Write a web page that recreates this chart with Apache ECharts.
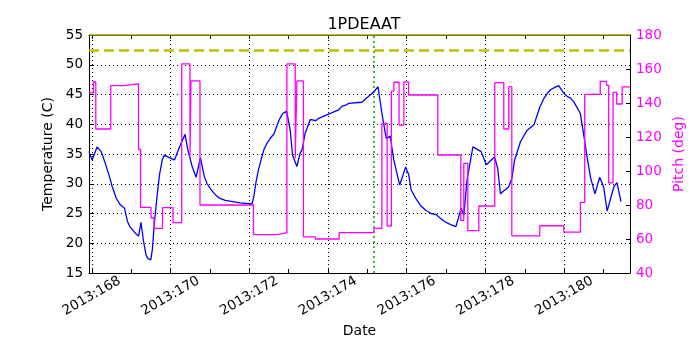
<!DOCTYPE html>
<html>
<head>
<meta charset="utf-8">
<script src="https://cdn.jsdelivr.net/npm/echarts@6/dist/echarts.min.js"></script>
<style>html,body{margin:0;padding:0;background:#fff;}#c{width:700px;height:350px;}</style>
</head>
<body>
<div id="c"></div>
<script>
const title = '1PDEAAT';
const xTickDays = [168, 169, 170, 171, 172, 173, 174, 175, 176, 177, 178, 179, 180, 181];
const xLabelDays = [168, 170, 172, 174, 176, 178, 180];
const tempDays = [167.93,168.01,168.135,168.24,168.34,168.45,168.52,168.62,168.72,168.83,168.91,168.97,169.04,169.12,169.19,169.25,169.31,169.38,169.43,169.50,169.54,169.59,169.66,169.72,169.79,169.84,169.97,170.10,170.25,170.37,170.44,170.55,170.65,170.76,170.86,170.93,171.03,171.13,171.24,171.39,171.77,172.07,172.12,172.18,172.24,172.30,172.37,172.45,172.53,172.63,172.70,172.78,172.85,172.95,173.04,173.10,173.21,173.29,173.34,173.42,173.55,173.69,173.76,174.27,174.35,174.45,174.52,174.86,175.17,175.27,175.37,175.48,175.58,175.67,175.82,175.97,176.05,176.11,176.24,176.37,176.49,176.62,176.75,176.87,177.00,177.13,177.25,177.38,177.45,177.53,177.68,177.89,178.02,178.23,178.31,178.38,178.59,178.67,178.74,178.89,179.06,179.23,179.38,179.48,179.57,179.65,179.76,179.86,179.99,180.07,180.16,180.24,180.41,180.50,180.58,180.67,180.78,180.90,181.00,181.09,181.26,181.34,181.44,181.64];
const tempVals = [35.4,34.0,36.2,35.4,33.5,31.2,29.5,27.6,26.5,25.9,23.6,22.8,22.2,21.6,21.2,23.5,20.5,18.0,17.4,17.2,19.0,23.4,28.0,31.5,34.0,34.8,34.4,34.0,36.5,38.3,35.7,32.9,31.1,34.4,31.2,30.0,29.0,28.2,27.6,27.2,26.8,26.6,28.0,30.6,32.5,34.0,35.7,36.8,37.6,38.4,39.7,41.0,41.8,42.2,39.0,34.8,32.9,35.1,35.7,38.5,40.8,40.6,41.0,42.4,43.0,43.2,43.5,43.7,45.5,46.3,41.8,37.6,38.0,34.0,29.8,32.8,31.5,29.0,27.4,26.2,25.5,25.0,24.8,24.1,23.5,23.1,22.8,25.9,24.7,30.6,36.2,35.4,33.2,34.5,32.6,28.3,29.5,30.9,34.0,37.1,39.0,39.9,42.9,44.3,45.2,45.8,46.2,46.5,45.2,44.7,44.4,43.8,41.8,38.0,34.5,31.0,28.3,31.1,29.5,25.4,29.5,30.2,27.0];
const pitchDays = [167.93,168.041,168.102,168.482,168.802,169.188,169.239,169.505,169.581,169.797,170.063,170.284,170.495,170.520,170.749,172.107,172.703,172.957,173.168,173.211,173.376,173.680,174.284,175.165,175.368,175.503,175.609,175.673,175.805,175.926,176.046,176.789,177.373,177.449,177.551,177.830,178.236,178.464,178.591,178.668,179.378,179.987,180.411,180.520,180.914,181.071,181.129,181.239,181.333,181.472,181.67];
const pitchVals = [146,152.5,124.7,150.2,151.2,112.8,78.6,72.5,66.2,78.4,69.6,163,108,153,80,62.6,63.7,163,107.5,153,61.2,60,63.7,66.2,128,67.6,147,152.2,127,152.4,144.7,109.4,71,104.5,64.9,79.4,152,124.7,149.6,61.8,67.8,64,81.6,145.1,152.7,150.4,93,146.2,139.4,149.5,149.5];
const tempLimit = 52.5;
const tempTop = 55;
const markerDay = 175.17;

const font = 'DejaVu Sans';
const gridStyle = {color: '#000', type: [1, 3], width: 1};
const vGrid = xLabelDays.map(d => ({xAxis: d, lineStyle: gridStyle}));

const chart = echarts.init(document.getElementById('c'), null, {renderer: 'canvas'});
chart.setOption({
  animation: false,
  backgroundColor: '#fff',
  textStyle: {fontFamily: font},
  title: {text: title, left: 359, textAlign: 'center', top: 12,
    textStyle: {fontFamily: font, fontSize: 16, fontWeight: 'normal', color: '#000'}},
  grid: {left: 89, right: 70, top: 35, bottom: 77, containLabel: false},
  xAxis: [{
    type: 'value', min: 167.93, max: 181.67, position: 'bottom',
    name: 'Date', nameLocation: 'middle', nameGap: 50,
    nameTextStyle: {fontFamily: font, fontSize: 14, color: '#000'},
    axisLine: {show: true, lineStyle: {color: '#000', width: 1}},
    axisTick: {show: true, inside: true, length: 4, customValues: xTickDays, lineStyle: {color: '#000'}},
    axisLabel: {show: true, rotate: 30, customValues: xLabelDays, margin: 23,
      align: 'center', verticalAlign: 'middle',
      fontFamily: font, fontSize: 13.5, color: '#000', formatter: v => '2013:' + v},
    splitLine: {show: false}
  }, {
    type: 'value', min: 167.93, max: 181.67, position: 'top',
    axisLine: {show: true, lineStyle: {color: '#000', width: 1}},
    axisTick: {show: true, inside: true, length: 4, customValues: xTickDays, lineStyle: {color: '#000'}},
    axisLabel: {show: false}, splitLine: {show: false}
  }],
  yAxis: [{
    type: 'value', min: 15, max: 55, interval: 5, position: 'left',
    name: 'Temperature (C)', nameLocation: 'middle', nameGap: 30,
    nameTextStyle: {fontFamily: font, fontSize: 14, color: '#000'},
    axisLine: {show: true, lineStyle: {color: '#000', width: 1}},
    axisTick: {show: true, inside: true, length: 4, lineStyle: {color: '#000'}},
    axisLabel: {fontFamily: font, fontSize: 13.5, color: '#000', margin: 6},
    splitLine: {show: true, lineStyle: gridStyle}
  }, {
    type: 'value', min: 40, max: 180, interval: 20, position: 'right',
    name: 'Pitch (deg)', nameLocation: 'middle', nameGap: 36,
    nameTextStyle: {fontFamily: font, fontSize: 14, color: '#ff00ff'},
    axisLine: {show: true, lineStyle: {color: '#000', width: 1}},
    axisTick: {show: true, inside: true, length: 4, lineStyle: {color: '#000'}},
    axisLabel: {fontFamily: font, fontSize: 13.5, color: '#ff00ff', margin: 6},
    splitLine: {show: false}
  }],
  series: [{
    name: 'temp', type: 'line', xAxisIndex: 0, yAxisIndex: 0,
    data: tempDays.map((d, i) => [d, tempVals[i]]),
    showSymbol: false, lineStyle: {color: '#0000ff', width: 1.3}, z: 2,
    markLine: {
      silent: true, symbol: 'none', label: {show: false}, z: 1, animation: false,
      data: vGrid.concat([
        {xAxis: markerDay, lineStyle: {color: '#00a000', type: [2, 3], width: 1.5}},
        {yAxis: tempLimit, lineStyle: {color: '#bfbf00', type: [10, 5], width: 2.5}},
        {yAxis: tempTop, lineStyle: {color: '#a0a000', type: 'solid', width: 1.5}}
      ])
    }
  }, {
    name: 'pitch', type: 'line', xAxisIndex: 0, yAxisIndex: 1, step: 'end',
    data: pitchDays.map((d, i) => [d, pitchVals[i]]),
    showSymbol: false, lineStyle: {color: '#ff00ff', width: 1.3}, z: 3
  }]
});
</script>
</body>
</html>
